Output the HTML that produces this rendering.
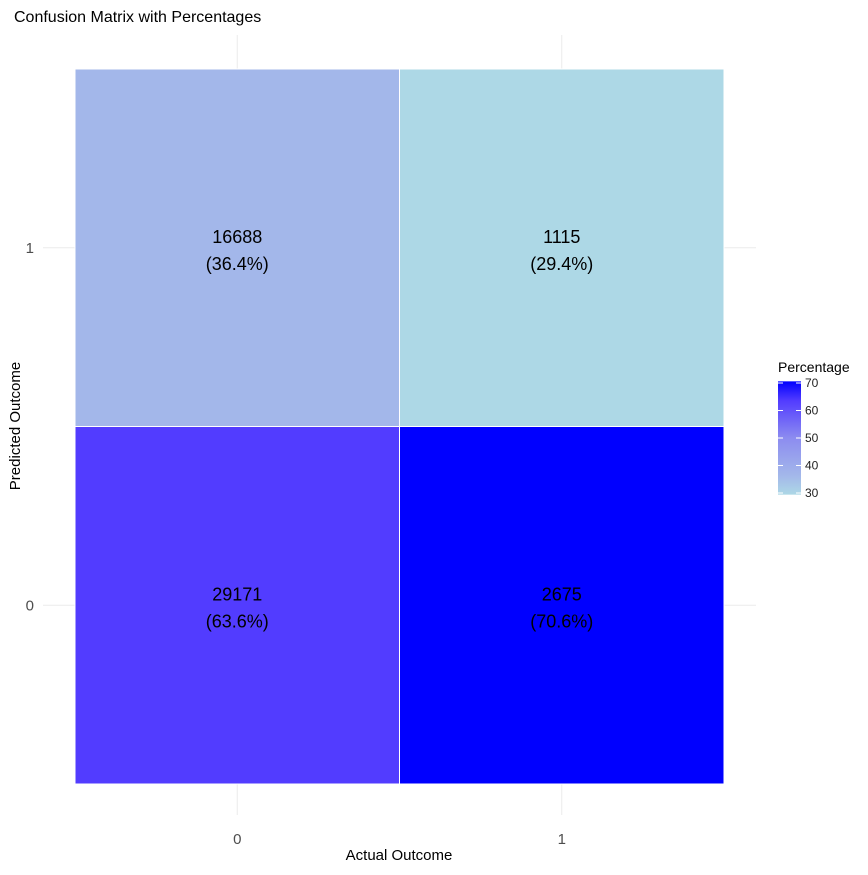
<!DOCTYPE html>
<html><head><meta charset="utf-8"><style>
body{margin:0;background:#fff;font-family:"Liberation Sans",sans-serif;}
</style></head><body>
<svg width="868" height="870" xmlns="http://www.w3.org/2000/svg" font-family="Liberation Sans, sans-serif">
<rect width="868" height="870" fill="#fff"/>
<text x="14" y="22" font-size="16" fill="#000">Confusion Matrix with Percentages</text>
<g id="grid"></g>
<g id="cells"></g>
<g id="axes"></g>
<g id="legend"></g>
</svg>
<script>
const actual = ["0","1"];
const predicted = ["0","1"];
const counts = [[29171,2675],[16688,1115]]; // [predicted][actual]
const percents = [[63.6,70.6],[36.4,29.4]];
const legendTicks = [30,40,50,60,70];
const NS="http://www.w3.org/2000/svg";
function mk(tag,attrs,parent){const e=document.createElementNS(NS,tag);for(const k in attrs)e.setAttribute(k,attrs[k]);parent.appendChild(e);return e;}
const px0=75,px1=724,py0=69,py1=784;
const cw=(px1-px0)/actual.length, ch=(py1-py0)/predicted.length;
const xc=i=>px0+cw*(i+0.5);
const yc=j=>py1-ch*(j+0.5);
const flat=percents.flat();
const pmin=Math.min(...flat), pmax=Math.max(...flat);
const stops=[[0,[173,216,230]],[0.17,[163,183,234]],[0.5,[140,140,240]],[0.83,[82,60,255]],[1,[0,0,255]]];
function color(v){const t=(v-pmin)/(pmax-pmin);for(let k=1;k<stops.length;k++){if(t<=stops[k][0]){const a=stops[k-1],b=stops[k];const f=(t-a[0])/(b[0]-a[0]);const c=a[1].map((x,i)=>Math.round(x+(b[1][i]-x)*f));return `rgb(${c})`;}}return "rgb(0,0,255)";}
const grid=document.getElementById('grid'),cells=document.getElementById('cells'),axes=document.getElementById('axes'),leg=document.getElementById('legend');
actual.forEach((a,i)=>{const l=mk('line',{x1:xc(i),x2:xc(i),y1:35,y2:815,stroke:'#ebebeb'},grid);});
predicted.forEach((p,j)=>{const l=mk('line',{x1:43,x2:756,y1:yc(j),y2:yc(j),stroke:'#ebebeb'},grid);});
predicted.forEach((p,j)=>actual.forEach((a,i)=>{
 const r=mk('rect',{x:px0+cw*i,y:py1-ch*(j+1),width:cw,height:ch,fill:color(percents[j][i]),stroke:'#fff','stroke-width':1},cells);
 
 const t1=mk('text',{x:xc(i),y:yc(j)-5,'text-anchor':'middle','font-size':18,fill:'#000'},cells);t1.textContent=counts[j][i];
 
 const t2=mk('text',{x:xc(i),y:yc(j)+22,'text-anchor':'middle','font-size':18,fill:'#000'},cells);t2.textContent='('+percents[j][i].toFixed(1)+'%)';
 
}));
actual.forEach((a,i)=>{const t=mk('text',{x:xc(i),y:844,'text-anchor':'middle','font-size':15,fill:'#4d4d4d'},axes);t.textContent=a;});
predicted.forEach((p,j)=>{const t=mk('text',{x:34,y:yc(j)+5,'text-anchor':'end','font-size':15,fill:'#4d4d4d'},axes);t.textContent=p;});
let t=mk('text',{x:399,y:860,'text-anchor':'middle','font-size':15,fill:'#000'},axes);t.textContent='Actual Outcome';
t=mk('text',{x:20,y:426,'text-anchor':'middle','font-size':15,fill:'#000',transform:'rotate(-90 20 426)'},axes);t.textContent='Predicted Outcome';
// legend
t=mk('text',{x:778,y:372,'font-size':14,fill:'#000'},leg);t.textContent='Percentage';
const ly=v=>383+(70-v)*2.75;
const defs=mk('defs',{},leg);const g=mk('linearGradient',{id:'lg',x1:0,y1:1,x2:0,y2:0},defs);
stops.forEach(s=>mk('stop',{offset:s[0],'stop-color':`rgb(${s[1]})`},g));
const bar=mk('rect',{x:778,y:ly(pmax),width:23,height:ly(pmin)-ly(pmax),fill:'url(#lg)'},leg);
legendTicks.forEach(v=>{
 mk('line',{x1:778,x2:783,y1:ly(v),y2:ly(v),stroke:'#fff'},leg);mk('line',{x1:796,x2:801,y1:ly(v),y2:ly(v),stroke:'#fff'},leg);
 const tt=mk('text',{x:805,y:ly(v)+4,'font-size':12,fill:'#222'},leg);tt.textContent=v;
});
</script>
</body></html>
